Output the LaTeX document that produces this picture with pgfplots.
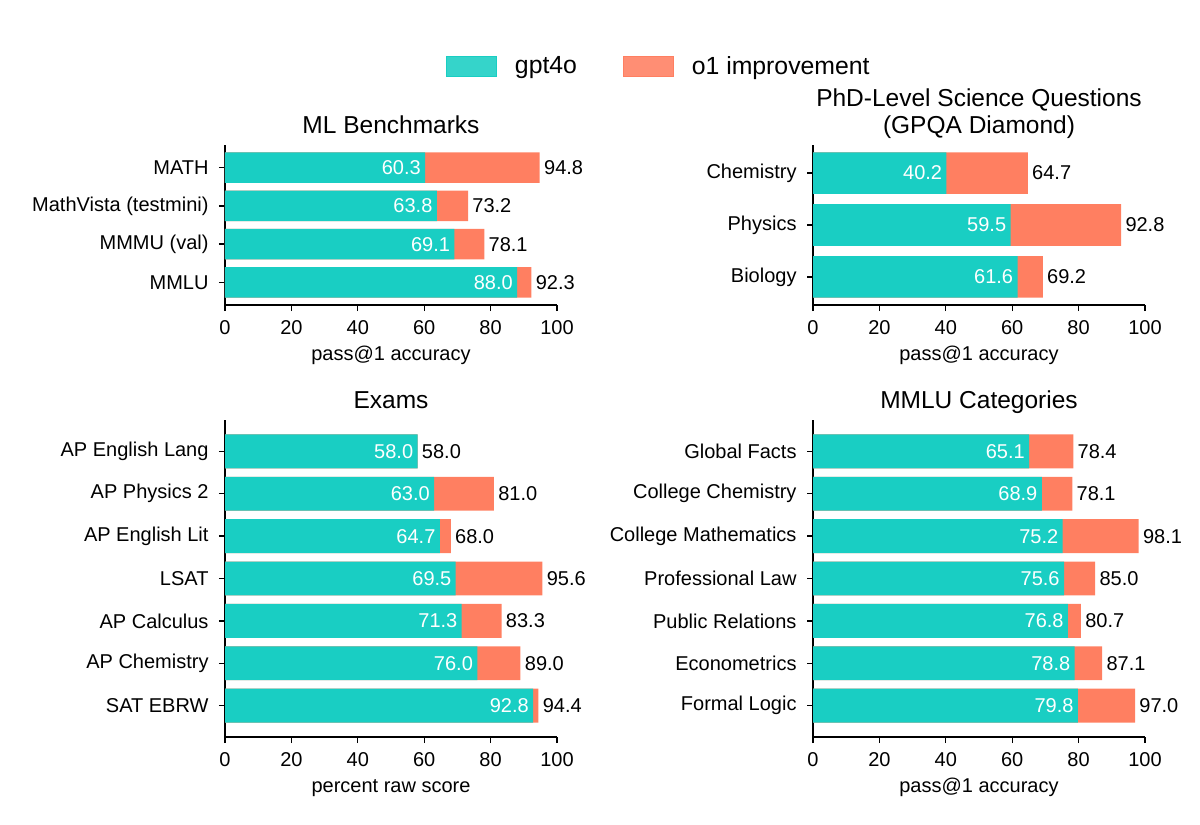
\documentclass[border=0pt]{standalone}
\usepackage{pgfplots}
\usepackage{pgfplotstable}
\pgfplotsset{compat=1.18}
\usepackage{fontspec}
\setmainfont{Liberation Sans}
\definecolor{gteal}{RGB}{25,206,195}
\definecolor{oorange}{RGB}{255,127,97}

% y = position from bottom, g = gpt4o, o = o1
\pgfplotstableread[col sep=comma]{
y,g,o
3,60.3,94.8
2,63.8,73.2
1,69.1,78.1
0,88.0,92.3
}\tblml
\pgfplotstableread[col sep=comma]{
y,g,o
2,40.2,64.7
1,59.5,92.8
0,61.6,69.2
}\tblphd
\pgfplotstableread[col sep=comma]{
y,g,o
6,58.0,58.0
5,63.0,81.0
4,64.7,68.0
3,69.5,95.6
2,71.3,83.3
1,76.0,89.0
0,92.8,94.4
}\tblexam
\pgfplotstableread[col sep=comma]{
y,g,o
6,65.1,78.4
5,68.9,78.1
4,75.2,98.1
3,75.6,85.0
2,76.8,80.7
1,78.8,87.1
0,79.8,97.0
}\tblmmlu

\pgfplotsset{
 panel/.style={
  scale only axis, width=166pt, xmin=0, xmax=100, xtick={0,20,...,100},
  axis x line*=bottom, axis y line*=left,
  axis line style={line width=0.65pt, -},
  tick align=outside, major tick length=3pt,
  every tick/.style={black, line width=0.65pt},
  tick label style={font=\fontsize{10}{12}\selectfont},
  label style={font=\fontsize{10}{12}\selectfont},
  /pgf/number format/assume math mode=true,
  xticklabel style={yshift=-1.2pt},
  yticklabel style={xshift=-1.7pt},
  title style={font=\fontsize{12.25}{13.5}\selectfont, at={(0.5,1)}, anchor=base, yshift=-0.25pt, align=center},
  xlabel style={at={(axis description cs:0.5,0)}, anchor=base, yshift=-27.5pt},
  clip=false,
 },
 gbar/.style={xbar, bar width=0.8, bar shift=0pt, fill=gteal, draw=none,
  point meta=x, nodes near coords, nodes near coords align=horizontal,
  nodes near coords style={anchor=east, text=white, inner sep=2pt, font=\fontsize{10}{12}\selectfont,
   /pgf/number format/.cd, fixed, fixed zerofill, precision=1, assume math mode=true}},
 obar/.style={xbar, bar width=0.8, bar shift=0pt, fill=oorange, draw=none,
  point meta=x, nodes near coords, nodes near coords align=horizontal,
  nodes near coords style={anchor=west, text=black, inner sep=2pt, font=\fontsize{10}{12}\selectfont,
   /pgf/number format/.cd, fixed, fixed zerofill, precision=1, assume math mode=true}},
}

\begin{document}
\begin{tikzpicture}
\useasboundingbox (0pt,0pt) rectangle (600pt,-412.5pt);

\begin{axis}[panel, at={(112.5pt,-152.5pt)}, anchor=south west, height=80pt,
  ymin=-0.59, ymax=3.59, ytick={0,1,2,3},
  yticklabels={MMLU, MMMU (val), MathVista (testmini), MATH},
  title={ML Benchmarks}, xlabel={pass@1 accuracy},
  legend columns=2,
  legend style={at={(axis description cs:1.31,1.49)}, anchor=center, draw=none, fill=none,
    font=\fontsize{12.4}{14}\selectfont,
    /tikz/every odd column/.append style={column sep=7pt},
    /tikz/every even column/.append style={column sep=21pt}},
  legend image code/.code={\draw[#1] (0pt,-5pt) rectangle (25pt,5pt);},
]
\addlegendimage{fill=gteal!88!white, draw=gteal}
\addlegendentry{gpt4o}
\addlegendimage{fill=oorange!88!white, draw=oorange}
\addlegendentry{o1 improvement}
\addplot[obar, forget plot] table[x=o, y=y]{\tblml};
\addplot[gbar, forget plot] table[x=g, y=y]{\tblml};
\end{axis}

\begin{axis}[panel, at={(406.5pt,-152.5pt)}, anchor=south west, height=80pt,
  ymin=-0.54, ymax=2.54, ytick={0,1,2},
  yticklabels={Biology, Physics, Chemistry},
  title={PhD-Level Science Questions\\(GPQA Diamond)}, xlabel={pass@1 accuracy},
]
\addplot[obar] table[x=o, y=y]{\tblphd};
\addplot[gbar] table[x=g, y=y]{\tblphd};
\end{axis}

\begin{axis}[panel, at={(112.5pt,-368.5pt)}, anchor=south west, height=158.5pt,
  ymin=-0.74, ymax=6.74, ytick={0,...,6},
  yticklabels={SAT EBRW, AP Chemistry, AP Calculus, LSAT, AP English Lit, AP Physics 2, AP English Lang},
  title={Exams}, xlabel={percent raw score},
]
\addplot[obar] table[x=o, y=y]{\tblexam};
\addplot[gbar] table[x=g, y=y]{\tblexam};
\end{axis}

\begin{axis}[panel, at={(406.5pt,-368.5pt)}, anchor=south west, height=158.5pt,
  ymin=-0.74, ymax=6.74, ytick={0,...,6},
  yticklabels={Formal Logic, Econometrics, Public Relations, Professional Law, College Mathematics, College Chemistry, Global Facts},
  title={MMLU Categories}, xlabel={pass@1 accuracy},
]
\addplot[obar] table[x=o, y=y]{\tblmmlu};
\addplot[gbar] table[x=g, y=y]{\tblmmlu};
\end{axis}
\end{tikzpicture}
\end{document}
